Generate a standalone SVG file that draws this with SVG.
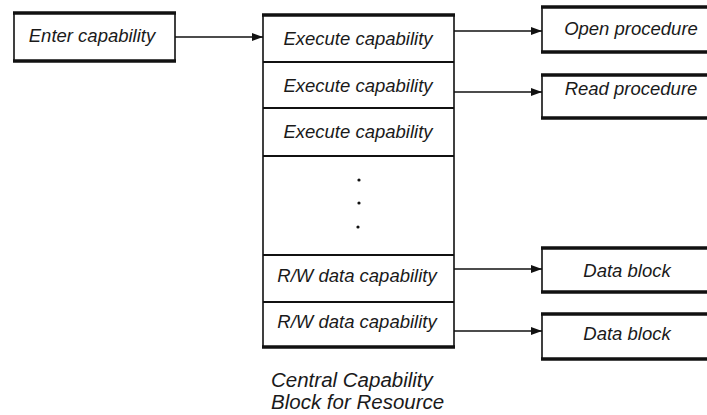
<svg xmlns="http://www.w3.org/2000/svg" width="707" height="415" viewBox="0 0 707 415">
  <style>
    .frame { fill: #fff; stroke: #111; stroke-width: 1.6; }
    .heavy { stroke: #111; stroke-width: 3.6; fill: none; }
    .rule { stroke: #111; stroke-width: 1.8; fill: none; }
    .lbl { font-family: "Liberation Sans", Arial, sans-serif; font-style: italic; font-size: 18.5px; fill: #1a1a1a; text-anchor: middle; }
    .cap { font-family: "Liberation Sans", Arial, sans-serif; font-style: italic; font-size: 20.5px; fill: #1a1a1a; }
    .link { stroke: #111; stroke-width: 1.6; fill: none; marker-end: url(#head); }
  </style>
  <defs>
    <marker id="head" markerUnits="userSpaceOnUse" markerWidth="11" markerHeight="8" refX="11" refY="4" orient="auto">
      <path d="M0,0 L11,4 L0,8 z" fill="#111"/>
    </marker>
  </defs>
  <rect width="707" height="415" fill="#fff"/>

  <!-- source entry -->
  <g id="enter">
    <rect class="frame" x="14" y="13" width="161" height="48"/>
    <line class="heavy" x1="13" y1="13" x2="176" y2="13"/>
    <line class="heavy" x1="13" y1="61" x2="176" y2="61"/>
    <text class="lbl" x="92" y="42">Enter capability</text>
  </g>

  <!-- central block with its slots -->
  <g id="central">
    <rect class="frame" x="263" y="15" width="191" height="332"/>
    <line class="heavy" x1="262" y1="15" x2="455" y2="15"/>
    <line class="heavy" x1="262" y1="347" x2="455" y2="347"/>
    <line class="rule" x1="263" y1="62" x2="454" y2="62"/>
    <line class="rule" x1="263" y1="108" x2="454" y2="108"/>
    <line class="rule" x1="263" y1="156" x2="454" y2="156"/>
    <line class="rule" x1="263" y1="255" x2="454" y2="255"/>
    <line class="rule" x1="263" y1="302" x2="454" y2="302"/>
    <text class="lbl" x="358" y="45">Execute capability</text>
    <text class="lbl" x="358" y="92">Execute capability</text>
    <text class="lbl" x="358" y="138">Execute capability</text>
    <circle cx="359" cy="180" r="1.6" fill="#111"/>
    <circle cx="359" cy="203" r="1.6" fill="#111"/>
    <circle cx="358" cy="227" r="1.6" fill="#111"/>
    <text class="lbl" x="357" y="282">R/W data capability</text>
    <text class="lbl" x="357" y="328">R/W data capability</text>
    <text class="cap" x="271" y="387">Central Capability</text>
    <text class="cap" x="271" y="409">Block for Resource</text>
  </g>

  <!-- target boxes -->
  <g id="open">
    <rect class="frame" x="542" y="7" width="170" height="45"/>
    <line class="heavy" x1="541" y1="7" x2="712" y2="7"/>
    <line class="heavy" x1="541" y1="52" x2="712" y2="52"/>
    <text class="lbl" x="631" y="35">Open procedure</text>
  </g>
  <g id="read">
    <rect class="frame" x="542" y="75" width="170" height="43"/>
    <line class="heavy" x1="541" y1="75" x2="712" y2="75"/>
    <line class="heavy" x1="541" y1="118" x2="712" y2="118"/>
    <text class="lbl" x="631" y="95">Read procedure</text>
  </g>
  <g id="data1">
    <rect class="frame" x="542" y="248" width="170" height="44"/>
    <line class="heavy" x1="541" y1="248" x2="712" y2="248"/>
    <line class="heavy" x1="541" y1="292" x2="712" y2="292"/>
    <text class="lbl" x="627" y="277">Data block</text>
  </g>
  <g id="data2">
    <rect class="frame" x="542" y="314" width="170" height="45"/>
    <line class="heavy" x1="541" y1="314" x2="712" y2="314"/>
    <line class="heavy" x1="541" y1="359" x2="712" y2="359"/>
    <text class="lbl" x="627" y="340">Data block</text>
  </g>

  <!-- connectors -->
  <g id="links">
    <line class="link" x1="175" y1="37" x2="263" y2="37"/>
    <line class="link" x1="454" y1="31" x2="542" y2="31"/>
    <line class="link" x1="454" y1="92" x2="542" y2="92"/>
    <line class="link" x1="454" y1="269" x2="542" y2="269"/>
    <line class="link" x1="454" y1="331" x2="542" y2="331"/>
  </g>
</svg>
